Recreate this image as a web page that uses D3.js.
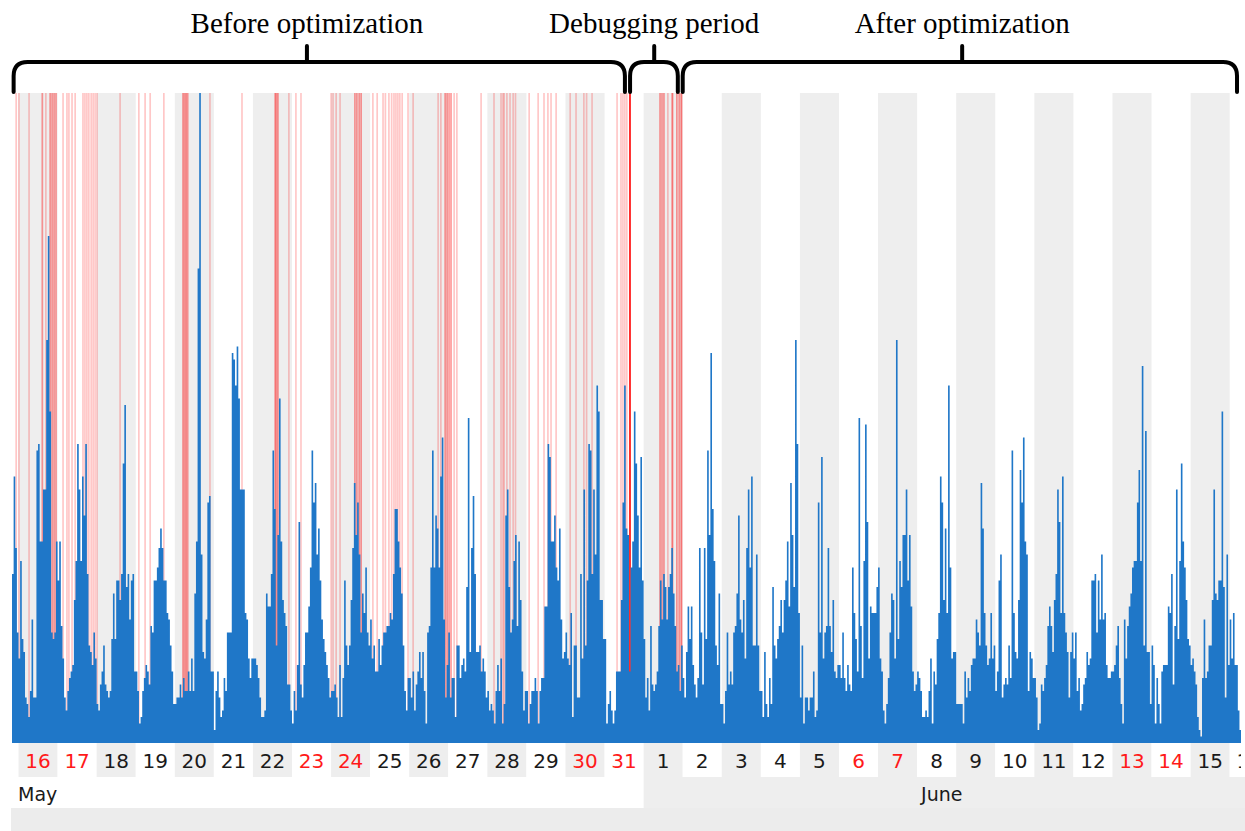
<!DOCTYPE html>
<html>
<head>
<meta charset="utf-8">
<script src="https://cdn.jsdelivr.net/npm/d3@7"></script>
<style>
  body { margin: 0; background: #fff; }
  svg { display: block; }
</style>
</head>
<body>
<svg id="chart" width="1245" height="831"></svg>
<script>
// hourly load, starting 15 May 20:00 (UTC), one array per day
const may15 = [26,41,30,17];
const may16 = [13,28,16,14,7,6,4,8,19,7,7,45,46,31,31,39,39,62,78,51,17,16,17,31];
const may17 = [25,31,18,13,7,5,8,10,11,12,22,28,46,39,28,41,35,46,26,15,14,12,17,13];
const may18 = [6,5,9,11,15,9,8,7,8,16,23,16,25,25,22,26,43,52,24,26,19,25,26,11];
const may19 = [11,8,3,4,8,10,12,11,9,18,17,25,25,27,30,33,30,25,25,20,19,15,11,6];
const may20 = [6,7,7,9,7,10,8,8,11,8,13,8,23,31,73,100,29,14,13,19,37,38,11,11];
const may21 = [2,8,11,7,4,5,10,8,17,17,17,60,59,55,61,53,39,39,39,20,19,13,10,13];
const may22 = [13,13,12,10,7,4,4,5,23,21,21,26,45,36,15,32,53,31,22,20,18,9,9,5];
const may23 = [3,8,5,12,34,9,7,12,17,17,21,27,45,37,40,29,33,25,19,16,14,12,10,7];
const may24 = [8,8,9,7,4,12,4,10,25,15,12,15,22,30,40,32,37,29,17,23,20,27,17,15];
const may25 = [19,13,15,11,11,16,12,15,17,17,18,18,20,19,26,36,36,31,27,23,15,8,5,10];
const may26 = [10,7,11,5,9,11,14,10,14,8,3,17,18,27,45,27,35,33,27,41,47,19,7,12];
const may27 = [17,7,10,10,4,15,15,10,12,13,11,24,50,14,30,38,26,14,14,15,11,13,11,7];
const may28 = [8,5,6,5,3,8,12,8,13,3,6,35,39,24,17,19,28,32,18,31,22,11,5,8];
const may29 = [8,3,6,8,8,10,8,3,8,10,10,21,21,46,44,31,31,35,27,25,33,19,13,14];
const may30 = [17,13,12,20,4,15,15,7,7,26,13,39,15,25,46,45,26,39,29,55,51,22,22,16];
const may31 = [16,3,6,8,5,3,5,11,11,11,22,37,55,33,32,11,27,31,51,43,35,27,44,25];
const jun01 = [16,7,10,5,18,9,8,9,11,18,25,19,26,24,19,24,26,30,23,18,11,12,8,15];
const jun02 = [10,7,14,21,16,21,12,9,7,10,30,17,9,30,16,45,32,60,36,28,15,12,23,6];
const jun03 = [6,3,8,17,9,11,9,17,18,23,35,19,17,22,13,30,39,27,41,15,15,29,15,8];
const jun04 = [8,4,14,6,4,10,6,24,15,13,16,18,22,17,22,25,31,21,40,32,24,62,46,20];
const jun05 = [7,15,3,7,7,5,7,7,11,4,5,37,17,44,13,17,18,30,18,14,22,11,10,12];
const jun06 = [12,10,17,10,8,12,9,8,27,20,16,11,50,18,10,28,49,34,13,21,20,20,20,24];
const jun07 = [27,13,11,5,3,6,10,17,23,22,13,62,16,28,24,32,32,39,25,32,21,11,8,9];
const jun08 = [11,10,8,4,4,5,4,8,13,3,11,9,16,20,41,37,22,33,20,55,27,13,14,14];
const jun09 = [6,6,6,6,3,11,7,10,8,12,13,13,19,17,15,40,33,20,15,12,13,20,13,15];
const jun10 = [8,11,25,29,7,9,10,9,15,10,45,20,14,13,22,42,37,47,31,29,8,14,13,10];
const jun11 = [10,7,2,3,9,8,10,12,18,21,18,14,22,26,39,34,20,41,20,17,14,7,14,17];
const jun12 = [13,17,8,10,5,6,9,10,14,12,13,25,25,26,17,25,19,29,19,20,12,10,10,11];
const jun13 = [11,12,15,18,10,6,3,19,13,18,21,23,27,28,28,37,42,28,58,15,48,14,14,6];
const jun14 = [15,12,3,10,6,3,11,12,12,12,21,20,26,9,18,39,16,28,43,31,27,22,16,15];
const jun15 = [12,13,11,9,4,2,1,10,19,10,11,15,15,22,39,23,22,25,25,51,24,7,29,12];
const jun16 = [19,13,20,12,12,5,2];

// error events, in days after 16 May 00:00 (repeated entries = several events at once)
const eventDays = [
  -0.06, 0.01, 0.27, 0.61, 0.61, 0.70, 0.81, 0.81, 0.86, 0.86, 0.91, 0.91, 0.96, 0.96,
  1.14, 1.24, 1.29, 1.37, 1.45, 1.65, 1.70, 1.75, 1.80, 1.86, 1.91, 1.96, 2.01,
  2.60, 3.08, 3.24, 3.37, 3.72, 4.21, 4.21, 4.25, 4.25, 4.29, 4.29, 4.33, 4.33,
  4.90, 5.72, 6.57, 6.57, 6.60, 6.60, 6.64, 6.64, 6.92, 7.10, 7.23,
  8.00, 8.05, 8.13, 8.23, 8.61, 8.61, 8.66, 8.66, 8.72, 8.72, 8.77, 8.77,
  9.07, 9.18, 9.33, 9.39, 9.48, 9.55, 9.61, 9.66, 9.71, 9.76, 9.82, 9.97, 10.10,
  10.74, 10.81, 10.92, 10.92, 10.97, 10.97, 11.02, 11.02, 11.07, 11.07, 11.15, 11.22,
  11.84, 12.17, 12.35, 12.40, 12.43, 12.50, 12.58, 12.66, 12.72,
  13.07, 13.30, 13.45, 13.55, 13.63, 13.76, 14.12, 14.27, 14.47, 14.54, 14.68,
  15.32, 15.42, 15.47, 15.52, 15.57,
  15.65, 15.65, 15.65, 15.65, 15.65, 15.65, 15.65, 15.65,
  16.42, 16.42, 16.47, 16.47, 16.52, 16.52, 16.62, 16.73, 16.73, 16.75,
  16.85, 16.85, 16.91, 16.91, 16.96, 16.96, 16.98
];

// annotated periods
const periodNames = ["Before optimization", "Debugging period", "After optimization"];
const periodStart = ["2015-05-15T21:00Z", "2015-05-31T15:40Z", "2015-06-02T00:00Z"];
const periodEnd   = ["2015-05-31T12:30Z", "2015-06-01T21:00Z", "2015-06-16T04:30Z"];
const periodMid   = ["2015-05-23T09:10Z", "2015-06-01T06:30Z", "2015-06-09T03:40Z"];

const monthNames = ["May", "June"];

// ---------------------------------------------------------------
const W = 1245, H = 831;
const plot = { left: 12, right: 1240, top: 93, bottom: 743 };
const labelRow = { top: 743, bottom: 777 };
const monthRow = { top: 777, bottom: 808 };
const grey = "#eeeeee";

const t0 = new Date(Date.UTC(2015, 4, 15, 20));
const t1 = new Date(Date.UTC(2015, 5, 16, 6, 20));
const ref = new Date(Date.UTC(2015, 4, 16));

const x = d3.scaleUtc().domain([t0, t1]).range([plot.left, plot.right]);
const y = d3.scaleLinear().domain([0, 100]).range([plot.bottom, plot.top]);

const values = [].concat(may15, may16, may17, may18, may19, may20, may21, may22, may23,
  may24, may25, may26, may27, may28, may29, may30, may31, jun01, jun02, jun03, jun04,
  jun05, jun06, jun07, jun08, jun09, jun10, jun11, jun12, jun13, jun14, jun15, jun16);
const series = values.map((v, i) => ({ t: d3.utcHour.offset(t0, i), v: v }));
series.push({ t: d3.utcHour.offset(t0, values.length), v: values[values.length - 1] });

const svg = d3.select("#chart");

svg.append("defs").append("clipPath").attr("id", "clip")
  .append("rect")
  .attr("x", plot.left).attr("y", 0)
  .attr("width", plot.right - plot.left + 1).attr("height", H);

const days = d3.utcDay.range(d3.utcDay.floor(t0), t1);
const isGrey = d => d3.utcDay.count(ref, d) % 2 === 0;
const dx0 = d => Math.max(plot.left, x(d));
const dx1 = d => Math.min(plot.right, x(d3.utcDay.offset(d, 1)));

// day bands in plot and label row
const bands = svg.append("g");
bands.selectAll("rect.plotband")
  .data(days.filter(isGrey))
  .join("rect")
  .attr("class", "plotband")
  .attr("x", dx0).attr("width", d => dx1(d) - dx0(d))
  .attr("y", plot.top).attr("height", plot.bottom - plot.top)
  .attr("fill", grey);

// month row
const june1 = new Date(Date.UTC(2015, 5, 1));
svg.append("rect")
  .attr("x", x(june1)).attr("y", monthRow.top)
  .attr("width", W - x(june1)).attr("height", monthRow.bottom - monthRow.top)
  .attr("fill", grey);
svg.append("rect")
  .attr("x", plot.left - 1).attr("y", monthRow.bottom)
  .attr("width", W - plot.left + 1).attr("height", H - monthRow.bottom)
  .attr("fill", "#ececec");

bands.selectAll("rect.labelband")
  .data(days)
  .join("rect")
  .attr("class", "labelband")
  .attr("x", dx0).attr("width", d => dx1(d) - dx0(d))
  .attr("y", labelRow.top).attr("height", labelRow.bottom - labelRow.top)
  .attr("fill", d => isGrey(d) ? grey : "#ffffff");

// event lines
svg.append("g")
  .attr("clip-path", "url(#clip)")
  .selectAll("line")
  .data(eventDays)
  .join("line")
  .attr("x1", d => x(new Date(ref.getTime() + d * 864e5)))
  .attr("x2", d => x(new Date(ref.getTime() + d * 864e5)))
  .attr("y1", plot.top).attr("y2", plot.bottom)
  .attr("stroke", "#ff0000")
  .attr("stroke-opacity", 0.22)
  .attr("stroke-width", 1.7);

// load area
const area = d3.area()
  .x(d => x(d.t))
  .y0(plot.bottom)
  .y1(d => y(d.v))
  .curve(d3.curveStepAfter);

svg.append("path")
  .datum(series)
  .attr("clip-path", "url(#clip)")
  .attr("d", area)
  .attr("fill", "#1f77c8");

// day labels
svg.append("g")
  .attr("clip-path", "url(#clip)")
  .selectAll("text")
  .data(days)
  .join("text")
  .attr("x", d => x(d3.utcHour.offset(d, 12)))
  .attr("y", 768)
  .attr("text-anchor", "middle")
  .attr("font-family", "DejaVu Sans, Verdana, sans-serif")
  .attr("font-size", 20)
  .attr("fill", d => (d.getUTCDay() === 0 || d.getUTCDay() === 6) ? "#ff1a1a" : "#1a1a1a")
  .text(d => d.getUTCDate());

// month labels
svg.append("text")
  .attr("x", plot.left + 6).attr("y", 801)
  .attr("font-family", "DejaVu Sans, Verdana, sans-serif")
  .attr("font-size", 19).attr("fill", "#1a1a1a")
  .text(monthNames[0]);
svg.append("text")
  .attr("x", (x(june1) + plot.right) / 2).attr("y", 801)
  .attr("text-anchor", "middle")
  .attr("font-family", "DejaVu Sans, Verdana, sans-serif")
  .attr("font-size", 19).attr("fill", "#1a1a1a")
  .text(monthNames[1]);

// braces over the periods
function brace(a, b, m) {
  const top = 62, bot = 92, r = 14;
  return "M" + a + "," + bot + " L" + a + "," + (top + r) +
    " Q" + a + "," + top + " " + (a + r) + "," + top +
    " L" + (b - r) + "," + top +
    " Q" + b + "," + top + " " + b + "," + (top + r) +
    " L" + b + "," + bot +
    " M" + m + "," + top + " L" + m + "," + (top - 16);
}

const braces = svg.append("g");
periodNames.forEach((name, i) => {
  const a = x(new Date(periodStart[i])), b = x(new Date(periodEnd[i])), m = x(new Date(periodMid[i]));
  braces.append("path")
    .attr("d", brace(a, b, m))
    .attr("fill", "none")
    .attr("stroke", "#000")
    .attr("stroke-width", 4)
    .attr("stroke-linecap", "round");
  braces.append("text")
    .attr("x", m).attr("y", 33)
    .attr("text-anchor", "middle")
    .attr("font-family", "Liberation Serif, Times New Roman, serif")
    .attr("font-size", 29)
    .attr("fill", "#000")
    .text(name);
});
</script>
</body>
</html>
